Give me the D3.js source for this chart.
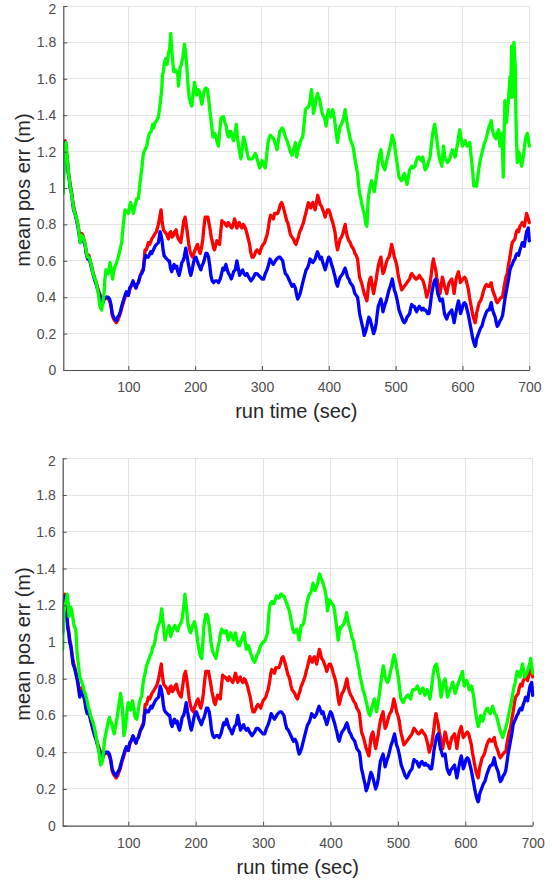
<!DOCTYPE html>
<html>
<head>
<meta charset="utf-8">
<script src="https://cdn.jsdelivr.net/npm/d3@7"></script>
<style>
  html, body { margin: 0; padding: 0; background: #fff; }
  svg { display: block; font-family: "Liberation Sans", Arial, Helvetica, sans-serif; }
</style>
</head>
<body>
<svg id="chart" width="552" height="882"></svg>
<script>
// ---- data (time in sec, mean position error in m) ----
const xTicks = [100, 200, 300, 400, 500, 600, 700];
const yTicks = [0, 0.2, 0.4, 0.6, 0.8, 1, 1.2, 1.4, 1.6, 1.8, 2];
const yTickLabels = ["0", "0.2", "0.4", "0.6", "0.8", "1", "1.2", "1.4", "1.6", "1.8", "2"];
const xLabel = "run time (sec)";
const yLabel = "mean pos err (m)";

const blueSeries = [[2.7,1.05],[4,1.18],[5.5,1.25],[7,1.19],[8.5,1.16],[10,1.08],[11.5,1.05],[13,1.0],[15,0.97],[18,0.88],[20,0.86],[22,0.83],[25,0.78],[26.5,0.74],[28,0.70],[30,0.73],[32,0.72],[34,0.70],[35.5,0.68],[37,0.64],[39,0.61],[41,0.62],[43,0.59],[45,0.56],[47,0.53],[50,0.49],[52,0.47],[55,0.43],[57,0.41],[60,0.38],[62,0.37],[64,0.39],[67,0.40],[70,0.40],[72,0.39],[74,0.36],[76,0.31],[78,0.29],[80,0.28],[82,0.27],[84,0.29],[86,0.30],[88,0.32],[90,0.35],[92.5,0.38],[95,0.41],[97,0.43],[100,0.41],[102,0.45],[104,0.46],[107,0.49],[109,0.47],[111.5,0.45],[113,0.47],[115,0.48],[118,0.52],[120,0.53],[122.5,0.55],[124,0.60],[126,0.63],[128,0.62],[130,0.62],[133.5,0.65],[135,0.64],[137.5,0.66],[140,0.68],[142,0.69],[145,0.70],[147.5,0.76],[149,0.74],[150.5,0.71],[152,0.66],[153.5,0.63],[155,0.62],[157.5,0.61],[160,0.60],[161.5,0.60],[163,0.56],[165,0.54],[167,0.57],[168.5,0.58],[170,0.56],[172.5,0.57],[174,0.54],[176,0.52],[178,0.55],[180,0.59],[182,0.60],[183.5,0.62],[186,0.67],[188,0.62],[190,0.58],[192,0.54],[193.5,0.52],[195.5,0.55],[197.5,0.59],[199,0.61],[201,0.62],[203,0.60],[205,0.58],[208.5,0.55],[210,0.57],[212.5,0.59],[214,0.61],[216,0.64],[218,0.64],[220,0.62],[222,0.57],[223.5,0.52],[225.5,0.49],[227.5,0.48],[230,0.49],[232.5,0.49],[235,0.48],[237.5,0.50],[239.5,0.53],[241.5,0.56],[243.5,0.55],[246,0.58],[248,0.55],[250,0.53],[252,0.52],[254,0.50],[256,0.52],[257.5,0.54],[260,0.55],[262.5,0.60],[264.5,0.56],[266.5,0.52],[269,0.54],[271,0.55],[273,0.53],[275,0.52],[277.5,0.53],[280,0.51],[283.5,0.49],[285.5,0.50],[287.5,0.51],[290,0.53],[292.5,0.53],[295,0.52],[297.5,0.51],[300,0.50],[302.5,0.50],[305,0.53],[307.5,0.55],[310,0.58],[312,0.61],[315,0.59],[317,0.58],[320,0.60],[322,0.61],[325,0.62],[327,0.62],[329,0.61],[331,0.60],[333,0.56],[335,0.53],[337.5,0.52],[340,0.50],[342.5,0.48],[345,0.46],[347.5,0.47],[350,0.45],[352,0.41],[353.5,0.39],[355,0.40],[357,0.42],[359,0.45],[361,0.48],[364.5,0.53],[366,0.55],[368,0.56],[370,0.58],[372,0.61],[374,0.60],[376,0.59],[378,0.60],[379.5,0.61],[381,0.63],[383,0.65],[385,0.63],[387,0.61],[389,0.62],[391,0.59],[393,0.57],[394.5,0.55],[396,0.57],[398,0.60],[400,0.62],[402,0.61],[404,0.58],[406,0.56],[408,0.53],[409.5,0.51],[411,0.48],[413,0.46],[415,0.49],[417,0.51],[419,0.52],[421,0.53],[423,0.55],[424.5,0.56],[426,0.54],[428,0.51],[430,0.50],[432,0.48],[434,0.47],[436,0.46],[437.5,0.44],[439,0.42],[441,0.41],[443,0.40],[444.5,0.36],[446,0.31],[448,0.28],[449,0.26],[451,0.23],[453,0.19],[455,0.21],[457,0.24],[458.5,0.27],[460,0.29],[461.5,0.28],[463,0.26],[465,0.23],[467,0.20],[469,0.22],[471,0.26],[472.5,0.31],[474,0.35],[476,0.37],[478,0.39],[479.5,0.36],[481,0.32],[482.5,0.34],[484,0.36],[486,0.38],[488,0.41],[490,0.44],[492,0.46],[493.5,0.48],[495,0.50],[496.5,0.47],[498,0.44],[500,0.42],[502,0.39],[503.5,0.36],[505,0.33],[507,0.31],[509,0.29],[511,0.27],[513,0.26],[515,0.27],[517,0.29],[519,0.30],[521,0.31],[522.5,0.34],[524,0.36],[526,0.35],[528,0.35],[530,0.33],[531.5,0.32],[533.5,0.34],[535.5,0.35],[537,0.34],[539,0.33],[541,0.34],[542.5,0.33],[544.5,0.33],[546.5,0.32],[548,0.31],[550,0.31],[552,0.36],[553.5,0.41],[555,0.44],[556.5,0.47],[558,0.49],[560,0.50],[561.5,0.46],[563,0.42],[565,0.40],[566.5,0.38],[568,0.38],[570,0.39],[571.5,0.35],[573,0.31],[575,0.29],[576.5,0.28],[578,0.30],[580,0.31],[582,0.32],[584,0.33],[586,0.29],[587.5,0.26],[589,0.29],[590.5,0.32],[592,0.35],[594,0.38],[595.5,0.35],[597,0.31],[599,0.33],[601,0.36],[603,0.37],[605,0.36],[607,0.33],[609,0.30],[610.5,0.27],[612,0.24],[613.5,0.21],[615,0.18],[617,0.15],[619,0.13],[620,0.14],[621,0.17],[623,0.19],[625,0.21],[627,0.23],[629,0.24],[630.5,0.26],[632,0.28],[634,0.30],[636,0.32],[638,0.33],[640,0.33],[641.5,0.35],[643,0.37],[645,0.33],[647,0.31],[649,0.29],[650.5,0.26],[652,0.24],[654,0.25],[656,0.27],[658,0.28],[660,0.30],[662,0.35],[663.5,0.39],[665,0.42],[667,0.46],[669,0.50],[671,0.55],[673,0.57],[674.5,0.58],[676.5,0.60],[678.5,0.61],[680,0.63],[682,0.64],[684,0.63],[686,0.66],[688,0.68],[689.5,0.70],[691,0.69],[692.5,0.68],[694,0.72],[696,0.76],[698.5,0.78],[700,0.71]];

const redSeries = [[2.7,1.06],[4,1.19],[5.5,1.26],[7,1.20],[8.5,1.17],[10,1.10],[11.5,1.06],[13,1.02],[15,0.98],[18,0.90],[20,0.87],[22,0.84],[25,0.79],[26.5,0.75],[28,0.72],[30,0.75],[32,0.74],[34,0.71],[35.5,0.69],[37,0.65],[39,0.62],[41,0.63],[43,0.60],[45,0.57],[47,0.54],[50,0.50],[52,0.48],[55,0.44],[57,0.42],[60,0.39],[62,0.38],[64,0.39],[67,0.40],[70,0.39],[72,0.38],[74,0.35],[76,0.30],[78,0.28],[80,0.27],[82,0.26],[84,0.27],[86,0.29],[88,0.31],[90,0.34],[92.5,0.37],[95,0.40],[97,0.42],[100,0.41],[102,0.44],[104,0.46],[107,0.48],[109,0.47],[111.5,0.45],[113,0.47],[115,0.48],[118,0.52],[120,0.54],[122.5,0.56],[124,0.62],[125,0.66],[127,0.66],[130,0.70],[132,0.69],[135,0.72],[137,0.73],[140,0.75],[142,0.76],[145,0.80],[147,0.84],[149,0.88],[150.5,0.82],[152.5,0.77],[154.5,0.76],[156.5,0.75],[158,0.74],[160,0.72],[161.5,0.75],[163.5,0.76],[165.5,0.73],[167.5,0.74],[169.5,0.76],[171.5,0.77],[173,0.74],[175,0.72],[176.5,0.71],[178.5,0.70],[180,0.74],[181.5,0.78],[183,0.82],[185,0.84],[187,0.79],[188.5,0.75],[190.5,0.69],[192.5,0.65],[194.5,0.63],[196.5,0.62],[198,0.64],[200,0.66],[202,0.68],[203.5,0.69],[205.5,0.66],[207.5,0.64],[209.5,0.67],[211.5,0.72],[213,0.78],[215,0.84],[217,0.84],[219,0.84],[221,0.80],[222.5,0.77],[224,0.73],[226,0.70],[227.5,0.67],[229,0.66],[231,0.69],[232.5,0.71],[234.5,0.70],[236.5,0.69],[238,0.75],[240,0.82],[242,0.81],[243.5,0.81],[245.5,0.80],[247.5,0.79],[249.5,0.81],[251.5,0.80],[253,0.79],[255,0.78],[257,0.80],[259,0.83],[261,0.80],[262.5,0.78],[264,0.80],[266,0.81],[268,0.79],[270,0.78],[272,0.80],[274,0.79],[276,0.77],[277.5,0.75],[279.5,0.72],[281.5,0.69],[283,0.65],[285,0.62],[287,0.62],[288.5,0.63],[290.5,0.65],[292.5,0.66],[294.5,0.65],[296.5,0.64],[298,0.66],[300,0.68],[302,0.69],[304,0.70],[305.5,0.72],[307.5,0.74],[309.5,0.78],[311.5,0.83],[313,0.85],[315,0.84],[317,0.83],[319,0.86],[321,0.86],[323.5,0.86],[325.5,0.88],[327.5,0.91],[329.5,0.92],[331.5,0.90],[333,0.88],[335,0.85],[337,0.82],[338.5,0.81],[340,0.79],[341.5,0.76],[343,0.74],[345,0.73],[347,0.72],[349,0.70],[351,0.69],[352.5,0.71],[354.5,0.73],[356.5,0.76],[358,0.77],[360,0.79],[362,0.81],[364,0.84],[365.5,0.86],[367.5,0.89],[369.5,0.92],[371,0.90],[373,0.89],[374.5,0.91],[376,0.92],[378,0.90],[379.5,0.88],[381.5,0.92],[383.5,0.96],[385,0.94],[387,0.91],[389,0.90],[391,0.88],[393,0.86],[394.5,0.84],[396,0.86],[398,0.88],[400,0.88],[402,0.86],[404,0.83],[406,0.81],[408,0.78],[409.5,0.75],[411,0.70],[413,0.66],[415,0.69],[417,0.72],[419,0.73],[421,0.75],[423,0.78],[424.5,0.80],[426,0.76],[428,0.73],[430,0.71],[432,0.70],[434,0.68],[436,0.67],[437.5,0.66],[439,0.64],[441,0.63],[443,0.61],[444.5,0.56],[446,0.51],[448,0.49],[449,0.48],[451,0.45],[453,0.42],[455,0.40],[457,0.38],[458.5,0.43],[460,0.48],[461.5,0.50],[463,0.51],[465,0.46],[467,0.42],[469,0.46],[471,0.50],[472.5,0.54],[474,0.57],[476,0.60],[478,0.62],[479.5,0.57],[481,0.53],[482.5,0.54],[484,0.56],[486,0.59],[488,0.61],[490,0.62],[491.5,0.64],[493,0.67],[494,0.69],[496,0.66],[498,0.62],[500,0.60],[502,0.57],[503.5,0.53],[505,0.50],[507,0.47],[509,0.44],[511,0.45],[513,0.46],[515,0.47],[517,0.48],[519,0.49],[521,0.50],[522.5,0.52],[524,0.53],[526,0.52],[528,0.51],[530,0.50],[531.5,0.50],[533.5,0.51],[535.5,0.52],[537,0.51],[539,0.50],[541,0.49],[542.5,0.47],[544.5,0.44],[546.5,0.40],[548,0.42],[550,0.44],[552,0.49],[553.5,0.53],[555,0.58],[556.5,0.61],[558,0.58],[560,0.55],[561.5,0.51],[563,0.48],[565,0.45],[566.5,0.42],[568,0.46],[570,0.51],[571.5,0.49],[573,0.46],[575,0.44],[576.5,0.42],[578,0.45],[580,0.48],[582,0.49],[584,0.50],[586,0.46],[587.5,0.42],[589,0.46],[590.5,0.50],[592,0.52],[594,0.54],[595.5,0.51],[597,0.48],[599,0.49],[601,0.50],[603,0.51],[605,0.50],[607,0.47],[609,0.44],[610.5,0.40],[612,0.37],[613.5,0.34],[615,0.31],[617,0.28],[619,0.26],[620,0.28],[621,0.31],[623,0.34],[625,0.37],[627,0.38],[629,0.40],[630.5,0.42],[632,0.44],[634,0.46],[636,0.47],[638,0.46],[640,0.46],[641.5,0.47],[643,0.48],[645,0.44],[647,0.42],[649,0.40],[650.5,0.38],[652,0.37],[654,0.38],[656,0.39],[658,0.40],[660,0.40],[662,0.45],[663.5,0.48],[665,0.51],[667,0.53],[669,0.58],[671,0.62],[673,0.67],[674.5,0.70],[676.5,0.71],[678.5,0.72],[680,0.75],[682,0.77],[684,0.76],[686,0.79],[688,0.80],[689.5,0.81],[691,0.80],[692.5,0.79],[694,0.82],[696,0.86],[698.5,0.83],[700,0.81]];

const greenTopSeries = [[2.7,0.97],[4,1.15],[5.5,1.23],[7,1.25],[8.5,1.17],[10,1.10],[11.5,1.05],[13,1.01],[15,0.97],[18,0.89],[20,0.86],[22,0.84],[25,0.79],[26.5,0.74],[28,0.70],[30,0.74],[32,0.73],[34,0.71],[35.5,0.69],[37,0.65],[39,0.62],[41,0.62],[43,0.60],[45,0.57],[47,0.53],[50,0.50],[52,0.48],[55,0.42],[57.5,0.35],[60,0.33],[62,0.37],[63.5,0.42],[65,0.50],[66.5,0.55],[68,0.53],[70,0.53],[72.5,0.59],[74.5,0.55],[76.5,0.50],[78,0.54],[80,0.57],[82.5,0.59],[85,0.62],[87.5,0.66],[90,0.70],[92.5,0.80],[95,0.88],[97.5,0.87],[100,0.86],[102,0.90],[103.5,0.92],[105.5,0.89],[107.5,0.86],[110,0.90],[112.5,0.94],[115,0.94],[117.5,1.03],[120,1.10],[122.5,1.19],[125,1.21],[127.5,1.23],[129.5,1.27],[131.5,1.30],[134,1.31],[136.5,1.35],[138,1.33],[140,1.36],[142.5,1.37],[145,1.39],[147.5,1.46],[150,1.54],[151,1.62],[152.5,1.64],[154,1.69],[156,1.71],[158,1.68],[160,1.74],[162,1.77],[163.5,1.85],[165,1.76],[166.5,1.69],[168,1.64],[170,1.65],[172,1.64],[174,1.62],[175,1.56],[176.5,1.62],[177.5,1.66],[179.5,1.68],[181.5,1.72],[183,1.76],[184,1.79],[185.5,1.75],[187.5,1.67],[189,1.58],[191,1.50],[193,1.47],[195,1.45],[197,1.52],[199,1.58],[201,1.54],[202.5,1.51],[204.5,1.54],[206.5,1.53],[208.5,1.49],[210,1.46],[212,1.50],[214,1.54],[216,1.55],[218.5,1.54],[220.5,1.48],[222.5,1.41],[224.5,1.35],[226.5,1.28],[229,1.30],[231.5,1.28],[233,1.25],[235,1.23],[236.5,1.30],[238.5,1.38],[240.5,1.39],[242.5,1.39],[244.5,1.36],[246.5,1.34],[248,1.30],[250,1.28],[251.5,1.31],[253.5,1.31],[255.5,1.28],[257.5,1.26],[259.5,1.30],[261.5,1.35],[263,1.29],[265,1.23],[266.5,1.20],[268.5,1.16],[270.5,1.22],[272.5,1.28],[274,1.26],[276,1.23],[278,1.19],[280,1.16],[282.5,1.16],[285,1.16],[287.5,1.17],[290,1.19],[292,1.17],[293.5,1.15],[295,1.13],[296.5,1.11],[298.5,1.13],[300,1.15],[302.5,1.13],[305,1.11],[307,1.18],[309,1.25],[311,1.28],[312.5,1.29],[315,1.28],[317.5,1.27],[320,1.24],[322.5,1.21],[324.5,1.26],[326.5,1.31],[328.5,1.32],[330,1.33],[332,1.32],[335,1.28],[337.5,1.26],[340,1.23],[342.5,1.20],[345,1.18],[347.5,1.21],[350,1.25],[352,1.17],[354,1.21],[357,1.25],[359,1.27],[361,1.28],[363,1.35],[365,1.43],[367.5,1.44],[370,1.45],[372,1.48],[374,1.54],[375.5,1.48],[377,1.41],[379.5,1.45],[381,1.49],[383,1.52],[384.5,1.50],[386,1.49],[388,1.45],[389.5,1.42],[391,1.40],[393,1.39],[394.5,1.37],[396,1.34],[398,1.40],[399.5,1.43],[401,1.41],[403,1.39],[404.5,1.41],[406,1.43],[408,1.39],[409.5,1.35],[411,1.30],[413,1.25],[415,1.30],[417,1.34],[419,1.35],[421,1.37],[423,1.40],[424.5,1.43],[426,1.39],[428,1.34],[430,1.31],[432,1.27],[434,1.25],[436,1.23],[437.5,1.20],[439,1.16],[441,1.12],[443,1.08],[444.5,1.02],[446,0.97],[448,0.94],[450,0.90],[452,0.87],[454,0.84],[455.5,0.80],[457,0.79],[458,0.86],[459,0.94],[460.5,0.98],[462,1.01],[464,1.04],[466,1.01],[468,0.98],[470,1.03],[472,1.08],[474,1.14],[476,1.18],[478,1.21],[479.5,1.16],[481,1.12],[482.5,1.11],[484,1.10],[486,1.14],[488,1.17],[490,1.20],[492,1.23],[493.5,1.26],[495,1.29],[496.5,1.27],[498,1.25],[500,1.19],[502,1.14],[503.5,1.10],[505,1.06],[507,1.05],[509,1.04],[511,1.06],[513,1.08],[515,1.05],[517,1.02],[519,1.06],[521,1.10],[522.5,1.11],[524,1.12],[526,1.11],[529,1.12],[531,1.15],[533,1.17],[535,1.17],[536.5,1.16],[538.5,1.15],[540.5,1.17],[542.5,1.13],[544,1.10],[546,1.11],[547.5,1.12],[549.5,1.15],[551.5,1.17],[553.5,1.24],[555.5,1.30],[557,1.33],[558.5,1.35],[560,1.31],[561.5,1.27],[563.5,1.21],[565.5,1.16],[567.5,1.14],[569,1.12],[570.5,1.18],[571.5,1.23],[573,1.19],[574,1.16],[576,1.15],[577.5,1.14],[579.5,1.15],[581,1.16],[583,1.19],[585,1.21],[587,1.19],[589,1.17],[591,1.21],[593,1.25],[594.5,1.29],[596,1.32],[598,1.27],[600,1.23],[602,1.25],[604,1.26],[605.5,1.24],[607,1.23],[609,1.24],[611,1.25],[613,1.17],[615,1.10],[617,1.01],[619,1.02],[621,1.01],[623,1.06],[625,1.12],[627,1.16],[629,1.19],[631,1.22],[633,1.25],[634.5,1.26],[636,1.28],[638,1.31],[640,1.34],[641.5,1.35],[643,1.37],[644.5,1.33],[646,1.30],[648,1.28],[650,1.27],[652,1.30],[654,1.32],[655,1.28],[656,1.23],[657.5,1.27],[659,1.30],[660,1.20],[661,1.06],[662,1.25],[663.5,1.48],[665,1.40],[666,1.36],[667.5,1.44],[668.5,1.47],[670,1.55],[671,1.61],[672,1.50],[673.5,1.78],[675,1.50],[676,1.65],[677,1.80],[678,1.72],[679,1.67],[680,1.39],[681,1.25],[682,1.14],[683.5,1.20],[685,1.19],[687,1.15],[688.5,1.12],[690,1.15],[691,1.17],[692.5,1.22],[693.5,1.25],[695,1.28],[697,1.30],[698.5,1.27],[700,1.23]];

const greenBottomSeries = [[2.7,0.96],[3,1.05],[4.5,1.16],[6,1.20],[7,1.21],[8.5,1.24],[9.5,1.26],[11,1.20],[12,1.14],[13.5,1.17],[14.5,1.19],[16,1.17],[17.5,1.14],[19.5,1.09],[22,1.07],[23,1.02],[24,0.94],[26,0.88],[28,0.81],[29.5,0.80],[31,0.78],[33,0.76],[35,0.73],[37,0.71],[39,0.68],[40.5,0.65],[42,0.63],[44,0.60],[46,0.58],[48,0.56],[50,0.53],[52,0.49],[54,0.45],[56,0.41],[57.5,0.37],[59,0.33],[60.5,0.34],[62,0.36],[63.5,0.42],[65,0.47],[67,0.51],[69,0.54],[70.5,0.57],[72,0.59],[73.5,0.57],[75,0.56],[77,0.53],[79,0.50],[80.5,0.53],[82,0.56],[83.5,0.59],[85,0.63],[87,0.68],[88.5,0.72],[90,0.68],[91.5,0.63],[92.5,0.55],[93.5,0.49],[95,0.52],[96.5,0.56],[98,0.62],[100,0.67],[102,0.65],[103.5,0.63],[105,0.66],[106.5,0.68],[108,0.64],[110,0.59],[112.5,0.58],[114.5,0.62],[116.5,0.67],[118,0.69],[120,0.71],[121.5,0.76],[123,0.80],[125,0.83],[127,0.87],[129,0.89],[131,0.91],[133,0.93],[134.5,0.94],[136,0.97],[138,0.98],[140,1.01],[141,1.04],[142.5,1.06],[144.5,1.09],[147,1.11],[148.5,1.15],[149.5,1.18],[151,1.13],[152,1.10],[153.5,1.04],[154.5,1.01],[156,1.04],[157,1.05],[159,1.07],[160.5,1.09],[162,1.06],[163,1.03],[164.5,1.05],[166,1.07],[167.5,1.08],[169,1.09],[171,1.07],[173,1.06],[174.5,1.08],[176,1.09],[177.5,1.10],[179,1.11],[180.5,1.14],[181.5,1.17],[183,1.22],[184,1.26],[185.5,1.21],[186.5,1.18],[188,1.12],[189,1.09],[191,1.06],[192.5,1.05],[194,1.07],[195.5,1.09],[197,1.10],[198,1.11],[200,1.08],[201.5,1.05],[203,1.00],[205,0.96],[206,0.94],[207.5,0.92],[209,0.91],[210.5,0.99],[212,1.08],[213.5,1.12],[215,1.15],[216.5,1.15],[218,1.14],[219,1.11],[220,1.09],[221.5,1.04],[223,0.99],[224.5,0.96],[226,0.94],[228,0.93],[230,0.91],[231.5,0.94],[233.5,0.98],[235,1.00],[236.5,1.04],[238.5,1.07],[240,1.06],[242,1.05],[244,1.06],[246,1.06],[247,1.03],[248.5,1.01],[250,1.03],[252,1.05],[254,1.03],[256,1.01],[257.5,1.03],[259,1.05],[260.5,1.02],[262,0.99],[263.5,0.98],[265,0.98],[266.5,1.00],[268,1.01],[270,1.03],[272,1.05],[273.5,1.00],[275,0.96],[276.5,0.97],[278,0.98],[280,0.96],[281.5,0.94],[283.5,0.92],[285.5,0.90],[287.5,0.89],[289.5,0.91],[291,0.93],[293,0.94],[294.5,0.96],[296.5,0.98],[298,0.99],[300,1.00],[301.5,1.00],[303,1.01],[305,1.03],[306.5,1.05],[308,1.12],[309.5,1.19],[311,1.21],[313,1.22],[315,1.21],[316.5,1.21],[318,1.23],[320,1.25],[322,1.24],[324,1.24],[326,1.26],[327.5,1.26],[329,1.25],[331,1.25],[333,1.23],[335,1.21],[337,1.19],[339,1.17],[340.5,1.14],[342.5,1.10],[344,1.07],[346,1.05],[348,1.06],[350,1.07],[352,1.04],[353.5,1.01],[355,1.05],[356.5,1.09],[358,1.09],[360,1.10],[362,1.14],[363.5,1.18],[365.5,1.22],[367.5,1.25],[369,1.26],[371,1.27],[372.5,1.29],[374,1.32],[375.5,1.30],[377,1.28],[379,1.30],[381,1.32],[382.5,1.35],[384,1.37],[385.5,1.35],[387,1.34],[389,1.32],[390.5,1.30],[392,1.28],[393.5,1.25],[395.5,1.17],[397,1.20],[398.5,1.23],[400,1.22],[402,1.21],[404,1.20],[405.5,1.18],[407,1.14],[408.5,1.10],[410,1.05],[411.5,1.01],[413,1.05],[414.5,1.08],[416,1.08],[418,1.09],[420,1.10],[421.5,1.12],[423,1.14],[424,1.16],[425.5,1.12],[427.5,1.09],[429,1.07],[430.5,1.05],[432,1.02],[434,1.01],[436,0.96],[438,0.94],[440,0.89],[442,0.86],[444,0.81],[446,0.78],[448,0.74],[450,0.72],[452,0.69],[454,0.66],[455.5,0.63],[457,0.61],[458.5,0.60],[460,0.62],[462,0.65],[463.5,0.67],[465,0.69],[467,0.65],[468.5,0.62],[470,0.66],[472,0.70],[474,0.76],[475.5,0.80],[477,0.84],[478.5,0.87],[480,0.84],[481,0.81],[483,0.79],[484.5,0.78],[486,0.79],[487.5,0.81],[489,0.84],[491,0.87],[492.5,0.90],[494.5,0.93],[496,0.91],[497,0.89],[499,0.84],[501,0.80],[502.5,0.75],[504,0.70],[506,0.68],[508,0.67],[510,0.69],[512,0.70],[514,0.71],[515.5,0.71],[517,0.70],[519,0.69],[520.5,0.72],[522,0.74],[524,0.74],[525.5,0.74],[527,0.75],[529,0.76],[531,0.74],[533,0.72],[535,0.74],[537,0.75],[538.5,0.73],[540,0.71],[542,0.73],[543.5,0.74],[545.5,0.72],[547.5,0.69],[549.5,0.74],[551.5,0.80],[553,0.84],[555,0.87],[557.5,0.88],[559,0.84],[561,0.80],[562.5,0.75],[564,0.70],[566,0.74],[567.5,0.78],[569,0.79],[570,0.80],[572,0.75],[573.5,0.70],[575.5,0.72],[577.5,0.74],[579.5,0.76],[581.5,0.78],[583,0.75],[585,0.72],[586.5,0.74],[588,0.76],[590,0.78],[592,0.80],[594,0.82],[596,0.84],[597,0.80],[598.5,0.76],[600,0.78],[602,0.79],[604,0.77],[606,0.74],[608,0.75],[609.5,0.76],[611,0.73],[613,0.69],[614.5,0.64],[616,0.60],[618,0.56],[619.5,0.54],[621,0.57],[623,0.60],[624.5,0.59],[626,0.57],[628,0.60],[629.5,0.62],[631,0.63],[633,0.64],[635,0.62],[637,0.61],[639,0.63],[640.5,0.65],[642,0.63],[644,0.61],[646,0.60],[647.5,0.58],[649.5,0.55],[651.5,0.52],[653.5,0.50],[655.5,0.48],[657,0.50],[659,0.52],[660.5,0.54],[662,0.56],[664,0.60],[666,0.63],[668,0.67],[670,0.71],[672,0.75],[674,0.78],[675.5,0.81],[677,0.84],[679,0.83],[681,0.81],[683,0.85],[685,0.88],[686.5,0.84],[688,0.81],[689.5,0.82],[691,0.83],[693,0.85],[694.5,0.87],[696,0.89],[697,0.91],[698.5,0.87],[700,0.83]];

// ---- layout ----
const xDomain = [2.7, 700];
const yDomain = [0, 2];
const panels = [
  { left: 63.3, right: 529.3, top: 6, bottom: 370, green: greenTopSeries },
  { left: 62.7, right: 532.7, top: 458.3, bottom: 825.7, green: greenBottomSeries }
];

const svg = d3.select("#chart");
const axisColor = "#4d4d4d";
const gridColor = "#e3e3e3";

panels.forEach((p, i) => {
  const x = d3.scaleLinear().domain(xDomain).range([p.left, p.right]);
  const y = d3.scaleLinear().domain(yDomain).range([p.bottom, p.top]);
  const g = svg.append("g");

  // grid
  g.append("g").selectAll("line").data(xTicks).join("line")
    .attr("x1", d => x(d)).attr("x2", d => x(d))
    .attr("y1", p.top).attr("y2", p.bottom)
    .attr("stroke", gridColor).attr("stroke-width", 1).attr("shape-rendering", "crispEdges");
  g.append("g").selectAll("line").data(yTicks.filter(d => d > 0)).join("line")
    .attr("x1", p.left).attr("x2", p.right)
    .attr("y1", d => y(d)).attr("y2", d => y(d))
    .attr("stroke", gridColor).attr("stroke-width", 1).attr("shape-rendering", "crispEdges");

  // clip
  const clipId = "clip" + i;
  svg.append("clipPath").attr("id", clipId).append("rect")
    .attr("x", p.left).attr("y", p.top - 2)
    .attr("width", p.right - p.left + 2).attr("height", p.bottom - p.top + 2);

  const line = d3.line().x(d => x(d[0])).y(d => y(d[1]));
  const lines = g.append("g").attr("clip-path", `url(#${clipId})`);
  [[redSeries, "#ff0000"], [blueSeries, "#0000ff"], [p.green, "#00ff00"]].forEach(([data, color]) => {
    lines.append("path").datum(data)
      .attr("d", line)
      .attr("fill", "none")
      .attr("stroke", color)
      .attr("stroke-width", 3.3)
      .attr("stroke-linejoin", "round")
      .attr("stroke-linecap", "round");
  });

  // axes
  const xAxis = d3.axisBottom(x).tickValues(xTicks).tickSizeInner(-4).tickSizeOuter(0).tickPadding(12);
  const yAxis = d3.axisLeft(y).tickValues(yTicks).tickFormat((d, k) => yTickLabels[k]).tickSizeInner(-4).tickSizeOuter(0).tickPadding(7);

  const gx = g.append("g").attr("transform", `translate(0,${p.bottom})`).call(xAxis);
  const gy = g.append("g").attr("transform", `translate(${p.left},0)`).call(yAxis);
  [gx, gy].forEach(ax => {
    ax.select(".domain").attr("stroke", axisColor).attr("stroke-width", 1.2);
    ax.selectAll(".tick line").attr("stroke", axisColor);
    ax.selectAll(".tick text").attr("fill", axisColor)
      .style("font-size", "14px")
      .style("font-family", "'Liberation Sans', Arial, sans-serif");
  });
  // keep the topmost tick label fully inside the page
  gy.selectAll(".tick text").filter(d => d === 2).attr("dy", "0.5em");

  // labels
  g.append("text")
    .attr("x", (p.left + p.right) / 2)
    .attr("y", p.bottom + 48)
    .attr("text-anchor", "middle")
    .attr("fill", "#262626")
    .style("font-size", "20px")
    .text(xLabel);
  g.append("text")
    .attr("transform", `translate(30,${(p.top + p.bottom) / 2 + 2}) rotate(-90)`)
    .attr("text-anchor", "middle")
    .attr("fill", "#262626")
    .style("font-size", "20px")
    .text(yLabel);
});
</script>
</body>
</html>
